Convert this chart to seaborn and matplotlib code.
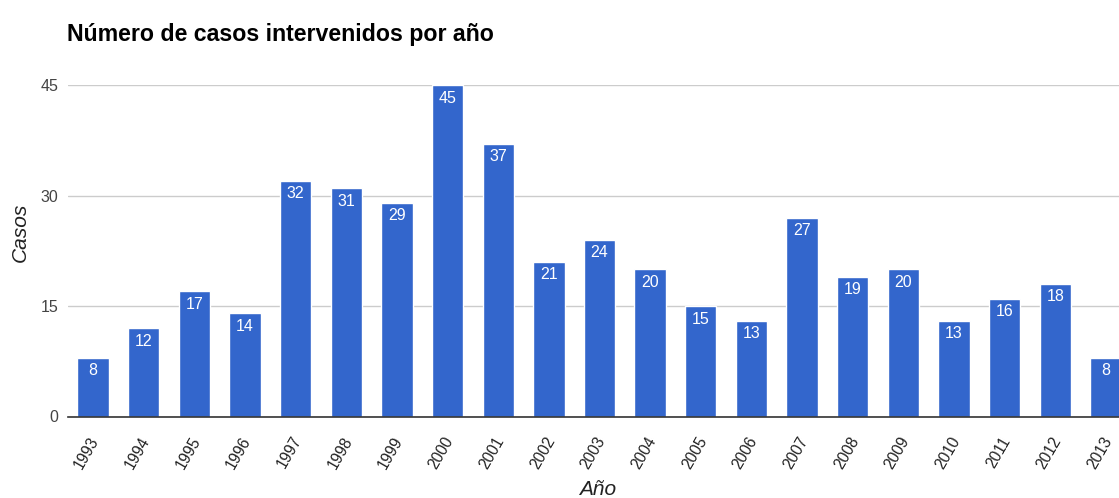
import matplotlib
matplotlib.use("Agg")
import matplotlib.pyplot as plt
import seaborn as sns
import pandas as pd
from matplotlib.transforms import offset_copy

# Cases handled per year
years = ["1993", "1994", "1995", "1996", "1997", "1998", "1999", "2000", "2001", "2002",
         "2003", "2004", "2005", "2006", "2007", "2008", "2009", "2010", "2011", "2012", "2013"]
cases = [8, 12, 17, 14, 32, 31, 29, 45, 37, 21, 24, 20, 15, 13, 27, 19, 20, 13, 16, 18, 8]
y_ticks = [0, 15, 30, 45]

title = "Número de casos intervenidos por año"
x_title = "Año"
y_title = "Casos"

sns.set_theme(style="white")
plt.rcParams["font.family"] = ["Liberation Sans", "DejaVu Sans"]

df = pd.DataFrame({"year": years, "cases": cases})

W, H = 1119, 498
fig = plt.figure(figsize=(W / 100, H / 100), dpi=100)
# plot area runs a little past the right edge of the figure
left_px, right_px, top_px, bottom_px = 67.7, 1131.3, 85, 416.5
ax = fig.add_axes([left_px / W, 1 - bottom_px / H,
                   (right_px - left_px) / W, (bottom_px - top_px) / H])

bar_color = "#3366CC"
sns.barplot(data=df, x="year", y="cases", order=years, color=bar_color,
            saturation=1, width=0.62, ax=ax, zorder=3)

ax.set_xlim(-0.5, len(years) - 0.5)
ax.set_ylim(0, 45)
ax.set_yticks(y_ticks)
ax.set_yticklabels([str(t) for t in y_ticks], fontsize=11.5, color="#444444")
ax.yaxis.grid(True, color="#cccccc", linewidth=1, zorder=0)
ax.xaxis.grid(False)
for s in ["top", "right", "left"]:
    ax.spines[s].set_visible(False)
ax.spines["bottom"].set_color("#333333")
ax.spines["bottom"].set_linewidth(1.2)
ax.spines["bottom"].set_zorder(4)
ax.tick_params(axis="y", length=0, pad=6.5)
ax.tick_params(axis="x", length=0, pad=6)

ax.set_xticks(range(len(years)))
ax.set_xticklabels(years, rotation=60, ha="right", rotation_mode="anchor",
                   fontsize=11.2, color="#222222")
for lbl in ax.get_xticklabels():
    lbl.set_transform(offset_copy(lbl.get_transform(), fig=fig, x=-4, y=-9, units="dots"))

ax.set_xlabel("")
ax.set_ylabel("")

# value labels inside the top of each bar
for i, v in enumerate(cases):
    ax.annotate(str(v), xy=(i, v), xytext=(0, -4), textcoords="offset points",
                ha="center", va="top", color="white", fontsize=11.5, zorder=5)

fig.text(67 / W, 1 - 41 / H, title, fontsize=16.7, fontweight="bold",
         color="#000000", ha="left", va="baseline")
fig.text(20 / W, 1 - 232 / H, y_title, fontsize=15, style="italic",
         color="#222222", rotation=90, ha="center", va="center")
fig.text(598 / W, 1 - 495 / H, x_title, fontsize=15, style="italic",
         color="#222222", ha="center", va="baseline")

fig.savefig("out.png", dpi=100)
